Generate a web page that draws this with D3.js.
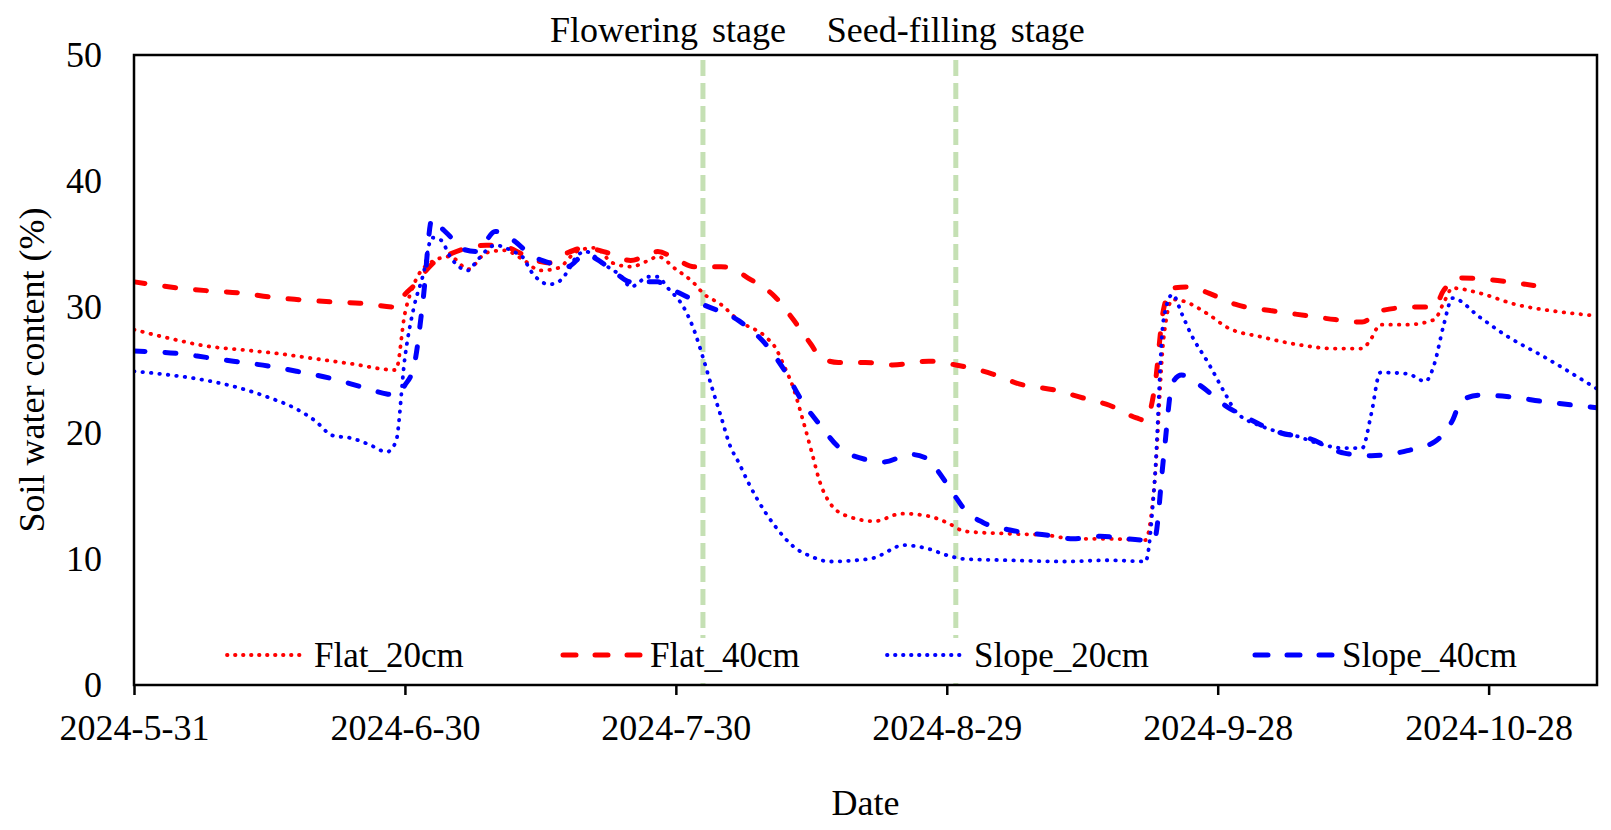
<!DOCTYPE html>
<html>
<head>
<meta charset="utf-8">
<script src="https://cdn.jsdelivr.net/npm/d3@7"></script>
<style>
  body { margin: 0; background: #fff; }
  svg, svg text { font-family: "Liberation Serif", "Times New Roman", serif; }
</style>
</head>
<body>
<svg id="chart" width="1611" height="830"></svg>
<script>
// tick labels / categories
const xTickDates = ["2024-05-31", "2024-06-30", "2024-07-30", "2024-08-29", "2024-09-28", "2024-10-28"];
const yTicks = [0, 10, 20, 30, 40, 50];
const stageNames = ["Flowering stage", "Seed-filling stage"];
const stageDates = ["2024-08-02", "2024-08-30"];
const seriesNames = ["Flat_20cm", "Flat_40cm", "Slope_20cm", "Slope_40cm"];

// soil water content (%)
const flat20 = [
  ["2024-05-31", 28.2], ["2024-06-04", 27.5], ["2024-06-08", 26.9], ["2024-06-12", 26.6],
  ["2024-06-16", 26.3], ["2024-06-20", 25.9], ["2024-06-24", 25.5], ["2024-06-29", 25.0],
  ["2024-06-30", 29.5], ["2024-07-01", 31.8], ["2024-07-03", 33.6], ["2024-07-05", 34.0],
  ["2024-07-07", 33.0], ["2024-07-09", 34.3], ["2024-07-11", 34.5], ["2024-07-13", 33.8],
  ["2024-07-15", 32.9], ["2024-07-17", 33.1], ["2024-07-19", 34.4], ["2024-07-21", 34.7],
  ["2024-07-23", 33.5], ["2024-07-25", 33.2], ["2024-07-27", 33.7], ["2024-07-28", 34.0],
  ["2024-07-30", 33.0], ["2024-08-01", 31.9], ["2024-08-02", 31.1], ["2024-08-04", 30.2],
  ["2024-08-06", 28.9], ["2024-08-09", 27.6], ["2024-08-10", 26.8], ["2024-08-11", 25.3],
  ["2024-08-12", 23.6], ["2024-08-13", 21.2], ["2024-08-14", 18.6], ["2024-08-15", 16.0],
  ["2024-08-16", 14.5], ["2024-08-18", 13.4], ["2024-08-21", 13.0], ["2024-08-24", 13.6],
  ["2024-08-27", 13.4], ["2024-08-29", 12.9], ["2024-08-31", 12.2], ["2024-09-05", 12.0],
  ["2024-09-09", 11.9], ["2024-09-12", 11.6], ["2024-09-16", 11.6], ["2024-09-20", 11.5],
  ["2024-09-21", 16.0], ["2024-09-22", 27.4], ["2024-09-23", 30.6], ["2024-09-24", 30.5],
  ["2024-09-27", 29.4], ["2024-09-29", 28.4], ["2024-10-03", 27.6], ["2024-10-07", 27.0],
  ["2024-10-11", 26.7], ["2024-10-14", 26.7], ["2024-10-15", 27.5], ["2024-10-16", 28.6],
  ["2024-10-19", 28.6], ["2024-10-22", 29.0], ["2024-10-23", 30.3], ["2024-10-24", 31.5],
  ["2024-10-27", 31.1], ["2024-10-31", 30.2], ["2024-11-04", 29.7], ["2024-11-09", 29.3]
];
const flat40 = [
  ["2024-05-31", 32.0], ["2024-06-05", 31.5], ["2024-06-08", 31.3], ["2024-06-12", 31.1],
  ["2024-06-15", 30.8], ["2024-06-18", 30.6], ["2024-06-22", 30.4], ["2024-06-25", 30.3],
  ["2024-06-29", 30.0], ["2024-06-30", 31.0], ["2024-07-01", 31.7], ["2024-07-02", 32.6],
  ["2024-07-03", 33.4], ["2024-07-05", 34.2], ["2024-07-07", 34.7], ["2024-07-09", 34.9],
  ["2024-07-11", 34.8], ["2024-07-13", 34.2], ["2024-07-15", 33.6], ["2024-07-16", 33.5],
  ["2024-07-18", 34.3], ["2024-07-20", 34.7], ["2024-07-22", 34.4], ["2024-07-25", 33.7],
  ["2024-07-28", 34.4], ["2024-07-30", 33.8], ["2024-08-01", 33.2], ["2024-08-04", 33.2],
  ["2024-08-05", 33.1], ["2024-08-07", 32.3], ["2024-08-10", 30.8], ["2024-08-12", 29.0],
  ["2024-08-14", 27.0], ["2024-08-15", 26.0], ["2024-08-17", 25.6], ["2024-08-20", 25.6],
  ["2024-08-23", 25.4], ["2024-08-27", 25.7], ["2024-08-30", 25.4], ["2024-09-03", 24.7],
  ["2024-09-06", 23.9], ["2024-09-10", 23.4], ["2024-09-13", 22.8], ["2024-09-16", 22.2],
  ["2024-09-19", 21.2], ["2024-09-20", 21.0], ["2024-09-21", 23.5], ["2024-09-22", 29.8],
  ["2024-09-23", 31.5], ["2024-09-25", 31.6], ["2024-09-27", 31.1], ["2024-09-30", 30.2],
  ["2024-10-04", 29.7], ["2024-10-08", 29.3], ["2024-10-11", 29.0], ["2024-10-14", 28.8],
  ["2024-10-16", 29.7], ["2024-10-20", 30.0], ["2024-10-22", 30.0], ["2024-10-23", 31.3],
  ["2024-10-25", 32.3], ["2024-10-29", 32.1], ["2024-11-02", 31.7]
];
const slope20 = [
  ["2024-05-31", 24.9], ["2024-06-04", 24.6], ["2024-06-07", 24.3], ["2024-06-11", 23.7],
  ["2024-06-15", 22.8], ["2024-06-18", 21.9], ["2024-06-20", 21.0], ["2024-06-22", 19.8],
  ["2024-06-24", 19.6], ["2024-06-26", 19.1], ["2024-06-28", 18.5], ["2024-06-29", 19.3],
  ["2024-06-30", 26.0], ["2024-07-01", 30.0], ["2024-07-02", 32.5], ["2024-07-03", 35.5],
  ["2024-07-04", 35.3], ["2024-07-05", 34.0], ["2024-07-07", 32.9], ["2024-07-08", 33.7],
  ["2024-07-10", 34.9], ["2024-07-12", 34.4], ["2024-07-13", 34.0], ["2024-07-14", 32.8],
  ["2024-07-16", 31.8], ["2024-07-17", 32.0], ["2024-07-18", 32.8], ["2024-07-19", 34.0],
  ["2024-07-20", 34.4], ["2024-07-22", 33.4], ["2024-07-24", 32.4], ["2024-07-25", 31.6],
  ["2024-07-27", 32.4], ["2024-07-28", 32.4], ["2024-07-29", 31.6], ["2024-07-31", 29.8],
  ["2024-08-01", 28.2], ["2024-08-02", 26.0], ["2024-08-03", 23.6], ["2024-08-04", 21.3],
  ["2024-08-05", 19.0], ["2024-08-06", 17.6], ["2024-08-07", 16.1], ["2024-08-09", 13.6],
  ["2024-08-10", 12.6], ["2024-08-12", 11.0], ["2024-08-14", 10.2], ["2024-08-16", 9.8],
  ["2024-08-19", 9.9], ["2024-08-21", 10.1], ["2024-08-23", 10.8], ["2024-08-24", 11.1],
  ["2024-08-27", 10.8], ["2024-08-29", 10.3], ["2024-08-31", 10.0], ["2024-09-05", 9.9],
  ["2024-09-11", 9.8], ["2024-09-16", 9.9], ["2024-09-20", 9.8], ["2024-09-21", 16.0],
  ["2024-09-22", 29.0], ["2024-09-23", 31.0], ["2024-09-24", 29.5], ["2024-09-25", 27.9],
  ["2024-09-27", 25.5], ["2024-09-29", 22.9], ["2024-09-30", 21.7], ["2024-10-03", 20.5],
  ["2024-10-07", 19.7], ["2024-10-09", 19.2], ["2024-10-12", 18.8], ["2024-10-14", 18.8],
  ["2024-10-15", 21.5], ["2024-10-16", 24.8], ["2024-10-19", 24.7], ["2024-10-21", 24.1],
  ["2024-10-22", 25.5], ["2024-10-23", 28.5], ["2024-10-24", 30.7], ["2024-10-27", 29.2],
  ["2024-10-30", 27.7], ["2024-11-03", 26.1], ["2024-11-09", 23.5]
];
const slope40 = [
  ["2024-05-31", 26.5], ["2024-06-05", 26.3], ["2024-06-08", 26.0], ["2024-06-11", 25.7],
  ["2024-06-15", 25.3], ["2024-06-18", 24.9], ["2024-06-22", 24.3], ["2024-06-25", 23.7],
  ["2024-06-28", 23.1], ["2024-06-29", 23.0], ["2024-06-30", 23.8], ["2024-07-01", 25.3],
  ["2024-07-02", 30.5], ["2024-07-03", 37.0], ["2024-07-04", 36.3], ["2024-07-05", 35.6],
  ["2024-07-06", 34.7], ["2024-07-08", 34.4], ["2024-07-10", 36.0], ["2024-07-12", 35.3],
  ["2024-07-14", 34.1], ["2024-07-16", 33.5], ["2024-07-18", 33.2], ["2024-07-20", 34.2],
  ["2024-07-21", 33.9], ["2024-07-23", 32.9], ["2024-07-25", 32.0], ["2024-07-28", 32.0],
  ["2024-07-29", 31.6], ["2024-07-31", 30.9], ["2024-08-02", 30.2], ["2024-08-06", 28.9],
  ["2024-08-09", 27.0], ["2024-08-11", 25.0], ["2024-08-13", 22.5], ["2024-08-15", 20.6],
  ["2024-08-17", 18.9], ["2024-08-20", 17.9], ["2024-08-22", 17.7], ["2024-08-25", 18.3],
  ["2024-08-27", 17.9], ["2024-08-28", 17.0], ["2024-08-30", 14.9], ["2024-08-31", 13.9],
  ["2024-09-02", 12.9], ["2024-09-05", 12.3], ["2024-09-09", 11.9], ["2024-09-12", 11.6],
  ["2024-09-15", 11.8], ["2024-09-20", 11.5], ["2024-09-21", 11.6], ["2024-09-22", 18.0],
  ["2024-09-23", 24.0], ["2024-09-24", 24.6], ["2024-09-26", 23.8], ["2024-09-29", 22.1],
  ["2024-10-01", 21.3], ["2024-10-05", 20.0], ["2024-10-08", 19.6], ["2024-10-12", 18.4],
  ["2024-10-15", 18.2], ["2024-10-19", 18.6], ["2024-10-22", 19.3], ["2024-10-24", 21.0],
  ["2024-10-25", 22.6], ["2024-10-27", 23.0], ["2024-10-30", 22.9], ["2024-11-03", 22.5],
  ["2024-11-09", 22.0]
];

const parseDate = d3.timeParse("%Y-%m-%d");
const fmt = d3.timeFormat("%Y-%-m-%-d");
const serif = "Liberation Serif, Times New Roman, serif";

const svg = d3.select("#chart").attr("font-family", serif);
const margin = {top: 55, right: 14, bottom: 145, left: 134};
const width = 1611, height = 830;

const x = d3.scaleTime()
    .domain([parseDate("2024-05-31"), parseDate("2024-11-09")])
    .range([margin.left, width - margin.right]);
const y = d3.scaleLinear()
    .domain([0, 50])
    .range([height - margin.bottom, margin.top]);

svg.append("clipPath").attr("id", "plotClip")
  .append("rect")
    .attr("x", margin.left).attr("y", margin.top)
    .attr("width", width - margin.left - margin.right)
    .attr("height", height - margin.top - margin.bottom);

// stage lines
svg.append("g").selectAll("line")
  .data(stageDates)
  .enter().append("line")
    .attr("x1", d => x(parseDate(d))).attr("x2", d => x(parseDate(d)))
    .attr("y1", y(50) + 5).attr("y2", y(0))
    .attr("stroke", "#c5e0b4")
    .attr("stroke-width", 5)
    .attr("stroke-dasharray", "16,7");

// stage labels
const labelShift = [-35, 0];
svg.append("g").selectAll("text")
  .data(stageNames)
  .enter().append("text")
    .attr("x", (d, i) => x(parseDate(stageDates[i])) + labelShift[i])
    .attr("y", 42)
    .attr("text-anchor", "middle")
    .attr("font-size", 36)
    .attr("word-spacing", 5)
    .text(d => d);

const styles = [
  {color: "#ff0000", width: 3.8, dash: "0.5,8"},
  {color: "#ff0000", width: 5, dash: "11,20"},
  {color: "#0000ff", width: 3.8, dash: "0.5,8"},
  {color: "#0000ff", width: 5, dash: "11,20"}
];
const allSeries = [flat20, flat40, slope20, slope40];

const line = d3.line()
    .x(d => x(parseDate(d[0])))
    .y(d => y(d[1]))
    .curve(d3.curveMonotoneX);

const lines = svg.append("g").attr("clip-path", "url(#plotClip)");
allSeries.forEach((s, i) => {
    lines.append("path")
        .datum(s)
        .attr("fill", "none")
        .attr("stroke", styles[i].color)
        .attr("stroke-width", styles[i].width)
        .attr("stroke-linecap", "round")
        .attr("stroke-dasharray", styles[i].dash)
        .attr("d", line);
});

// legend (inside plot, bottom, white box hides the stage lines)
const legendX = [224, 560, 884, 1252];
const legendY = 655;
const legend = svg.append("g");
legend.append("rect")
    .attr("x", 200).attr("y", 638).attr("width", 1300).attr("height", 45)
    .attr("fill", "#fff");
seriesNames.forEach((name, i) => {
    legend.append("line")
        .attr("x1", legendX[i] + 3).attr("x2", legendX[i] + 80)
        .attr("y1", legendY).attr("y2", legendY)
        .attr("stroke", styles[i].color)
        .attr("stroke-width", styles[i].width)
        .attr("stroke-linecap", "round")
        .attr("stroke-dasharray", i % 2 === 0 ? "0.5,7.5" : "13,19");
    legend.append("text")
        .attr("x", legendX[i] + 90)
        .attr("y", legendY + 12)
        .attr("font-size", 35)
        .text(name);
});

// frame
svg.append("rect")
    .attr("x", margin.left).attr("y", margin.top)
    .attr("width", width - margin.left - margin.right)
    .attr("height", height - margin.top - margin.bottom)
    .attr("fill", "none")
    .attr("stroke", "#000")
    .attr("stroke-width", 2.5);

// x axis
const xAxis = svg.append("g")
    .attr("transform", `translate(0, ${y(0)})`)
    .call(d3.axisBottom(x)
        .tickValues(xTickDates.map(parseDate))
        .tickFormat(fmt)
        .tickSize(10)
        .tickSizeOuter(0));
xAxis.select(".domain").remove();
xAxis.selectAll(".tick line").attr("stroke", "#000").attr("stroke-width", 2.5);
xAxis.selectAll(".tick text")
    .attr("y", 55).attr("dy", 0)
    .attr("font-size", 36)
    .attr("font-family", serif)
    .attr("fill", "#000");

// y axis
const yAxis = svg.append("g")
    .attr("transform", `translate(${margin.left}, 0)`)
    .call(d3.axisLeft(y).tickValues(yTicks).tickSize(0).tickPadding(32));
yAxis.select(".domain").remove();
yAxis.selectAll(".tick text")
    .attr("font-size", 36)
    .attr("font-family", serif)
    .attr("fill", "#000");

// axis titles
svg.append("text")
    .attr("x", (margin.left + width - margin.right) / 2)
    .attr("y", 815)
    .attr("text-anchor", "middle")
    .attr("font-size", 36)
    .text("Date");
svg.append("text")
    .attr("transform", `translate(44, ${(y(0) + y(50)) / 2}) rotate(-90)`)
    .attr("text-anchor", "middle")
    .attr("font-size", 36)
    .text("Soil water content (%)");
</script>
</body>
</html>
